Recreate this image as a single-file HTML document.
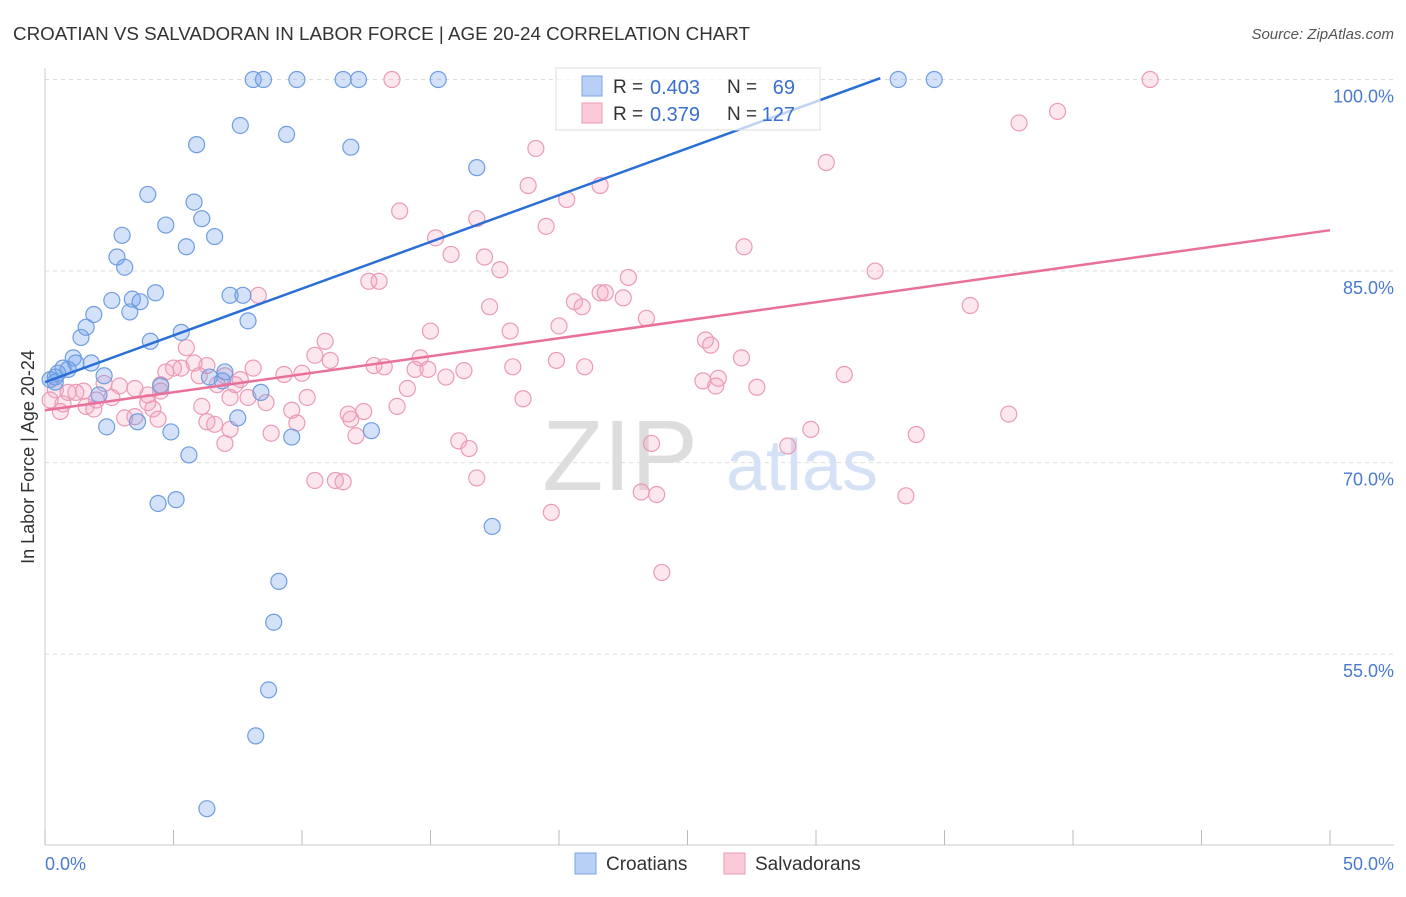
<!DOCTYPE html>
<html><head><meta charset="utf-8"><style>
body{margin:0;background:#fff;font-family:"Liberation Sans",sans-serif;}
svg text{font-family:"Liberation Sans",sans-serif;}
</style></head><body>
<svg width="1406" height="892" xmlns="http://www.w3.org/2000/svg">
<text x="13" y="40" font-size="18" fill="#333" textLength="737" lengthAdjust="spacingAndGlyphs">CROATIAN VS SALVADORAN IN LABOR FORCE | AGE 20-24 CORRELATION CHART</text>
<text x="1394" y="39" font-size="15" fill="#555" font-style="italic" text-anchor="end">Source: ZipAtlas.com</text>
<g id="grid"></g>
<text x="620" y="490" font-size="100" fill="#ddd" font-family="Liberation Serif" text-anchor="middle">ZIP</text>
<text x="802" y="490" font-size="72" fill="#d5e2f5" text-anchor="middle">atlas</text>
<g id="pts"></g>
<g id="lines"></g>
<text transform="translate(34,457) rotate(-90)" font-size="18" fill="#333" text-anchor="middle">In Labor Force | Age 20-24</text>
<text x="45" y="870" font-size="18" fill="#4a7ad0">0.0%</text>
<text x="1394" y="870" font-size="18" fill="#4a7ad0" text-anchor="end">50.0%</text>
<g>
<rect x="556" y="68" width="264" height="62" fill="rgba(255,255,255,0.7)" stroke="#ddd"/>
<rect x="582" y="76" width="20" height="20" fill="#b8d0f5" stroke="#7aa3e0"/>
<rect x="582" y="103" width="20" height="20" fill="#fbcad9" stroke="#eb9ab5"/>
<text x="613" y="93" font-size="19" fill="#333">R =</text>
<text x="650" y="94" font-size="20" fill="#3a6fd0">0.403</text>
<text x="727" y="93" font-size="19" fill="#333">N =</text>
<text x="795" y="94" font-size="20" fill="#3a6fd0" text-anchor="end">69</text>
<text x="613" y="120" font-size="19" fill="#333">R =</text>
<text x="650" y="121" font-size="20" fill="#3a6fd0">0.379</text>
<text x="727" y="120" font-size="19" fill="#333">N =</text>
<text x="795" y="121" font-size="20" fill="#3a6fd0" text-anchor="end">127</text>
</g>
<g>
<rect x="575" y="853" width="21" height="21" fill="#b8d0f5" stroke="#7aa3e0"/>
<text x="606" y="870" font-size="19" fill="#333">Croatians</text>
<rect x="724" y="853" width="21" height="21" fill="#fbcad9" stroke="#eb9ab5"/>
<text x="755" y="870" font-size="19" fill="#333">Salvadorans</text>
</g>
</svg>
<script>
const yTicks=[100,85,70,55];
const yTickLabels=["100.0%","85.0%","70.0%","55.0%"];
const xTicks=[0,5,10,15,20,25,30,35,40,45,50];
const croX=[8.1,8.5,9.8,11.6,12.2,15.3,33.2,34.6,7.6,9.4,5.9,11.9,16.8,4.0,5.8,4.7,6.1,3.0,6.6,5.5,2.8,3.1,4.3,7.2,7.7,2.6,3.4,3.7,3.3,1.9,1.6,7.9,1.4,4.1,5.3,1.1,1.8,1.2,0.7,0.9,0.5,0.4,2.3,0.4,4.5,7.0,6.9,6.4,8.4,7.5,3.6,2.4,4.9,12.7,9.6,5.6,4.4,5.1,17.4,9.1,8.9,8.7,8.2,6.3,0.2,2.1];
const croY=[100,100,100,100,100,100,100,100,96.4,95.7,94.9,94.7,93.1,91.0,90.4,88.6,89.1,87.8,87.7,86.9,86.1,85.3,83.3,83.1,83.1,82.7,82.8,82.6,81.8,81.6,80.6,81.1,79.8,79.5,80.2,78.2,77.8,77.8,77.4,77.3,77.0,76.7,76.8,76.3,76.0,77.1,76.4,76.7,75.5,73.5,73.2,72.8,72.4,72.5,72.0,70.6,66.8,67.1,65.0,60.7,57.5,52.2,48.6,42.9,76.5,75.3];
const salX=[13.5,43.0,39.4,37.9,19.1,30.4,18.8,21.6,20.3,13.8,16.8,19.5,15.2,27.2,15.8,17.1,17.7,32.3,12.6,13.0,22.7,8.3,21.6,21.8,22.5,20.6,20.9,17.3,36.0,23.4,20.0,15.0,18.1,10.9,25.7,25.9,5.5,10.5,11.1,14.6,19.9,27.1,21.0,12.8,13.2,14.4,14.9,16.3,18.2,15.6,9.3,10.0,5.8,5.3,5.0,6.3,8.1,7.0,7.6,6.0,4.7,4.5,2.3,2.9,3.5,4.5,7.4,4.0,6.7,25.6,26.2,26.1,27.7,31.1,14.1,10.2,8.6,9.6,7.2,7.9,1.5,1.2,0.9,2.6,2.0,1.6,1.9,0.7,0.6,4.2,4.0,6.1,3.1,3.5,4.4,6.3,6.6,7.2,9.8,13.7,11.8,12.4,11.9,18.6,8.8,12.1,16.1,16.5,23.6,29.8,28.9,33.9,37.5,7.0,10.5,11.3,11.6,16.8,19.7,23.2,23.8,33.5,24.0,0.4,0.2];
const salY=[100,100,97.5,96.6,94.6,93.5,91.7,91.7,90.6,89.7,89.1,88.5,87.6,86.9,86.3,86.1,85.1,85.0,84.2,84.2,84.5,83.1,83.3,83.3,82.9,82.6,82.2,82.2,82.3,81.3,80.7,80.3,80.3,79.5,79.6,79.2,79.0,78.4,78.0,78.2,78.0,78.2,77.5,77.6,77.5,77.3,77.3,77.2,77.5,76.7,76.9,77.0,77.8,77.4,77.4,77.6,77.4,76.8,76.5,76.8,77.1,76.1,76.2,76.0,75.8,75.6,76.1,75.3,76.1,76.4,76.6,76.0,75.9,76.9,75.8,75.1,74.7,74.1,75.1,75.1,75.6,75.5,75.5,75.1,74.9,74.4,74.2,74.6,74.0,74.2,74.7,74.4,73.5,73.6,73.4,73.2,73.0,72.6,73.1,74.4,73.8,74.0,73.4,75.0,72.3,72.1,71.7,71.1,71.5,72.6,71.3,72.2,73.8,71.5,68.6,68.6,68.5,68.8,66.1,67.7,67.5,67.4,61.4,75.7,74.9];
const croLine=[[0,76.3],[32.5,100.1]];
const salLine=[[0,74.1],[50,88.2]];
const X=v=>45+v*25.7, Y=v=>79.5+(100-v)*12.77;
const NS="http://www.w3.org/2000/svg";
function mk(t,a,p){const e=document.createElementNS(NS,t);for(const k in a)e.setAttribute(k,a[k]);p.appendChild(e);return e;}
const g=document.getElementById('grid');
yTicks.forEach((t,i)=>{
 const l=mk('line',{x1:45,x2:1394,y1:Y(t),y2:Y(t),stroke:'#ddd','stroke-dasharray':'4,4'},g);
 
 
 const tx=mk('text',{x:1394,y:Y(t)+23,'font-size':18,fill:'#4a7ad0','text-anchor':'end'},g);
 tx.textContent=yTickLabels[i];
 
 
});
const ax=mk('line',{x1:45,x2:45,y1:68,y2:845,stroke:'#ccc'},g);


const bx=mk('line',{x1:45,x2:1394,y1:845,y2:845,stroke:'#ccc'},g);


xTicks.forEach(t=>{
 const l=mk('line',{x1:X(t),x2:X(t),y1:830,y2:845,stroke:'#bbb'},g);
 
 
});
const p=document.getElementById('pts');
salX.forEach((x,i)=>{
 const c=mk('circle',{cx:X(x),cy:Y(salY[i]),r:8,fill:'rgba(244,160,190,0.25)',stroke:'#eb9ab5','stroke-width':1.2},p);
 
 
});
croX.forEach((x,i)=>{
 const c=mk('circle',{cx:X(x),cy:Y(croY[i]),r:8,fill:'rgba(110,160,235,0.3)',stroke:'#6f9de0','stroke-width':1.2},p);
 
 
});
const L=document.getElementById('lines');
const l1=mk('line',{x1:X(croLine[0][0]),y1:Y(croLine[0][1]),x2:X(croLine[1][0]),y2:Y(croLine[1][1]),stroke:'#2a6fd6','stroke-width':2.5},L);


const l2=mk('line',{x1:X(salLine[0][0]),y1:Y(salLine[0][1]),x2:X(salLine[1][0]),y2:Y(salLine[1][1]),stroke:'#e8709a','stroke-width':2.5},L);


</script>
</body></html>
